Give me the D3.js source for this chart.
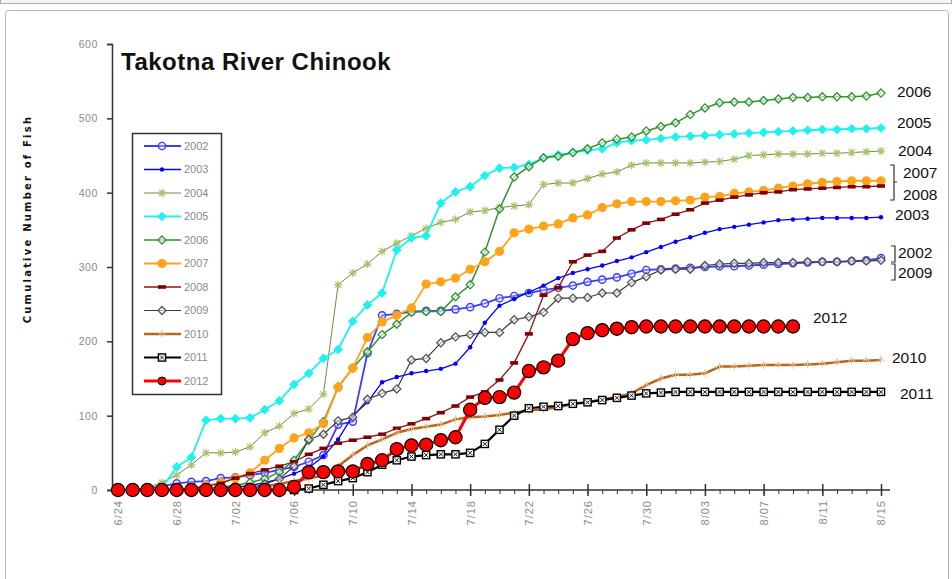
<!DOCTYPE html>
<html>
<head>
<meta charset="utf-8">
<script src="https://cdn.jsdelivr.net/npm/d3@7"></script>
<style>
  body { margin: 0; background: #fff; }
  text { font-family: "Liberation Sans", Arial, sans-serif; }
</style>
</head>
<body>
<div id="chart"></div>
<script>
// chart size
const width = 952;
const height = 579;

// daily counts, 6/24 through 8/15
const startDate = new Date(2012, 5, 24);
const tickLabels = ["6/24", "6/28", "7/02", "7/06", "7/10", "7/14", "7/18", "7/22", "7/26", "7/30", "8/03", "8/07", "8/11", "8/15"];
const yTicks = [0, 100, 200, 300, 400, 500, 600];

const y2002 = [0,0,2,5,9,11,12,16,17,20,23,27,31,38,47,88,92,184,235,237,240,241,241,243,246,251,258,261,265,269,272,275,280,283,286,291,296,297,298,299,300,301,301,302,303,304,305,306,307,307,308,309,312];
const y2003 = [0,0,0,0,0,0,0,2,4,6,10,15,22,30,45,68,100,118,145,152,157,160,163,170,192,225,248,257,266,275,285,292,297,302,308,313,320,327,334,340,346,351,354,357,360,363,364,365,366,366,366,366,367];
const y2004 = [0,0,3,10,20,34,50,50,51,58,77,86,103,109,129,276,292,304,321,332,342,352,360,364,374,376,380,382,384,411,413,413,419,425,428,437,440,440,440,440,441,442,445,450,451,452,452,452,453,453,454,455,456];
const y2005 = [0,0,0,3,31,44,94,96,96,97,108,120,142,157,177,189,227,249,265,323,339,342,386,401,408,423,433,434,438,447,451,454,457,459,467,470,471,473,475,476,477,478,479,480,481,482,483,484,485,485,486,486,487];
const y2006 = [0,0,0,0,0,0,2,4,6,10,15,24,40,67,92,139,164,186,209,223,239,240,240,260,276,320,378,421,435,447,449,454,459,467,472,475,483,489,494,505,514,521,522,522,524,526,528,528,529,529,529,530,534];
const y2007 = [0,0,0,0,0,3,6,10,16,23,40,56,70,77,89,138,164,205,226,235,245,277,280,285,297,307,321,346,351,355,358,366,370,380,385,388,388,388,389,390,394,395,399,401,403,406,409,412,414,415,416,416,416];
const y2008 = [0,0,0,0,0,2,5,9,16,22,27,32,38,48,56,63,67,71,75,83,89,96,104,113,125,132,148,171,210,262,272,307,316,321,339,350,359,364,371,377,386,390,394,397,400,401,404,405,406,407,408,408,409];
const y2009 = [0,0,0,0,0,0,0,0,0,3,8,15,32,68,75,93,98,122,130,136,175,177,198,206,209,212,212,229,233,239,258,258,259,265,265,279,287,296,297,297,302,304,305,305,306,306,306,307,307,307,308,308,309];
const y2010 = [0,0,0,0,0,0,0,0,0,2,5,8,12,15,20,32,47,60,68,77,82,85,88,95,98,99,101,104,107,109,111,116,118,122,125,130,141,150,155,155,157,166,166,167,168,168,168,169,170,172,174,174,175];
const y2011 = [0,0,0,0,0,0,0,0,0,0,0,0,0,2,7,12,16,24,34,40,45,47,48,48,50,62,81,100,110,112,113,116,118,121,124,127,130,131,132,132,132,132,132,132,132,132,132,132,132,132,132,132,132];
const y2012 = [0,0,0,0,0,0,0,0,0,0,0,0,4,24,24,25,25,35,40,55,60,61,67,71,108,124,125,131,160,165,174,203,211,215,217,219,220,220,220,220,220,220,220,220,220,220,220];

const seriesNames = ["2002", "2003", "2004", "2005", "2006", "2007", "2008", "2009", "2010", "2011", "2012"];
const seriesValues = [y2002, y2003, y2004, y2005, y2006, y2007, y2008, y2009, y2010, y2011, y2012];

// line + marker styling per year
const styles = {
    "2002": { line: "#3d3dff", lw: 1.8, marker: "ring", color: "#3d3dff" },
    "2003": { line: "#0000ff", lw: 1.3, marker: "dot", color: "#0000ff" },
    "2004": { line: "#708c40", lw: 1, marker: "star", color: "#a4c46c" },
    "2005": { line: "#1ff0f0", lw: 1.8, marker: "diamond", color: "#1ff0f0" },
    "2006": { line: "#2f932f", lw: 1.5, marker: "diamondOpen", color: "#2f932f" },
    "2007": { line: "#ffa31a", lw: 1.8, marker: "circle", color: "#ffa31a" },
    "2008": { line: "#8e1414", lw: 1.3, marker: "dash", color: "#800000" },
    "2009": { line: "#3a3a3a", lw: 1.2, marker: "diamondOpen", color: "#555555" },
    "2010": { line: "#b8661c", lw: 2.5, marker: "plus", color: "#ecc89c" },
    "2011": { line: "#000000", lw: 2.2, marker: "boxX", color: "#000000" },
    "2012": { line: "#ff0000", lw: 3, marker: "big", color: "#ff0000" }
};

const svg = d3.select("#chart")
    .append("svg")
    .attr("width", width)
    .attr("height", height);

// outer frames
svg.append("rect")
    .attr("x", 0.5).attr("y", -20)
    .attr("width", width - 1).attr("height", 23.5)
    .attr("fill", "#f4f4f4").attr("stroke", "#b0b0b0");
svg.append("rect")
    .attr("x", 5.5).attr("y", 10.5)
    .attr("width", width - 9).attr("height", 600)
    .attr("rx", 3)
    .attr("fill", "#fff").attr("stroke", "#b8b8b8");

const dates = seriesValues[0].map((v, i) => d3.timeDay.offset(startDate, i));

const x = d3.scaleTime()
    .domain([startDate, d3.timeDay.offset(startDate, 52)])
    .range([118, 881]);

const y = d3.scaleLinear()
    .domain([0, 600])
    .range([490, 44]);

// y axis
const yAxis = svg.append("g")
    .attr("transform", "translate(112,0)")
    .call(d3.axisLeft(y).tickValues(yTicks).tickSize(5).tickPadding(9));
yAxis.select(".domain").attr("stroke", "#333").attr("stroke-width", 1.5);
yAxis.selectAll(".tick line").attr("stroke", "#333").attr("stroke-width", 1.5);
yAxis.selectAll(".tick text")
    .attr("fill", "#8a8a8a")
    .style("font-size", "10.5px")
    .style("letter-spacing", "0.6px");

// x axis: minor daily ticks, major every 4 days
const xg = svg.append("g");
xg.append("line")
    .attr("x1", 110).attr("x2", 890)
    .attr("y1", 490).attr("y2", 490)
    .attr("stroke", "#333").attr("stroke-width", 1.5);

const minor = svg.append("g")
    .attr("transform", "translate(0,490)")
    .call(d3.axisBottom(x).tickValues(dates).tickSize(4).tickFormat(""));
minor.select(".domain").remove();
minor.selectAll(".tick line").attr("stroke", "#333");

const majorDates = tickLabels.map((t, i) => d3.timeDay.offset(startDate, i * 4));
const major = svg.append("g")
    .attr("transform", "translate(0,490)")
    .call(d3.axisBottom(x).tickValues(majorDates).tickSize(6)
        .tickFormat((d, i) => tickLabels[i]));
major.select(".domain").remove();
major.selectAll(".tick line").attr("y1", -6).attr("stroke", "#333").attr("stroke-width", 1.5);
major.selectAll(".tick text")
    .attr("fill", "#8a8a8a")
    .style("font-size", "11px")
    .style("letter-spacing", "1px")
    .attr("text-anchor", "end")
    .attr("transform", "rotate(-90)")
    .attr("x", -10)
    .attr("y", 0)
    .attr("dy", "0.35em");

// marker drawer
function drawMarker(g, kind, color) {
    if (kind === "ring") {
        g.append("circle").attr("r", 3.6).attr("fill", "#d8d8ff").attr("fill-opacity", 0.4)
            .attr("stroke", color).attr("stroke-width", 1.4);
    } else if (kind === "dot") {
        g.append("circle").attr("r", 2.2).attr("fill", color);
    } else if (kind === "star") {
        g.append("path").attr("d", "M-4,0H4M0,-4V4M-3,-3L3,3M-3,3L3,-3")
            .attr("stroke", color).attr("stroke-width", 1.2).attr("fill", "none");
    } else if (kind === "diamond") {
        g.append("path").attr("d", d3.symbol(d3.symbolDiamond2, 60)())
            .attr("fill", color);
    } else if (kind === "diamondOpen") {
        g.append("path").attr("d", d3.symbol(d3.symbolDiamond2, 42)())
            .attr("fill", "#fff").attr("fill-opacity", 0.6)
            .attr("stroke", color).attr("stroke-width", 1.3);
    } else if (kind === "circle") {
        g.append("circle").attr("r", 4.6).attr("fill", color);
    } else if (kind === "dash") {
        g.append("rect").attr("x", -4).attr("y", -1.8).attr("width", 8).attr("height", 3.6)
            .attr("fill", color);
    } else if (kind === "plus") {
        g.append("path").attr("d", "M-4,2L0,-3L4,2M0,-4V4")
            .attr("stroke", color).attr("stroke-width", 1).attr("fill", "none");
    } else if (kind === "boxX") {
        g.append("rect").attr("x", -3.6).attr("y", -3.6).attr("width", 7.2).attr("height", 7.2)
            .attr("fill", "#fff").attr("stroke", color).attr("stroke-width", 1.4);
        g.append("path").attr("d", "M-2,-2L2,2M-2,2L2,-2")
            .attr("stroke", color).attr("stroke-width", 0.9);
    } else if (kind === "big") {
        g.append("circle").attr("r", 6.6).attr("fill", color)
            .attr("stroke", "#000").attr("stroke-width", 1.2);
    }
}

const line = d3.line()
    .x((d, i) => x(dates[i]))
    .y(d => y(d));

// series, drawn in legend order so 2012 ends on top
seriesNames.forEach((name, k) => {
    const vals = seriesValues[k];
    const st = styles[name];
    const g = svg.append("g");
    g.append("path")
        .datum(vals)
        .attr("d", line)
        .attr("fill", "none")
        .attr("stroke", st.line)
        .attr("stroke-width", st.lw)
        .attr("stroke-linejoin", "round");
    g.selectAll("g.pt")
        .data(vals)
        .enter()
        .append("g")
        .attr("class", "pt")
        .attr("transform", (d, i) => `translate(${x(dates[i])},${y(d)})`)
        .each(function() { drawMarker(d3.select(this), st.marker, st.color); });
});

// legend
const legend = svg.append("g");
legend.append("rect")
    .attr("x", 132.5).attr("y", 133.5)
    .attr("width", 89).attr("height", 261)
    .attr("fill", "#fff").attr("stroke", "#333").attr("stroke-width", 1.5);
seriesNames.forEach((name, k) => {
    const st = styles[name];
    const ly = 146 + k * 23.5;
    legend.append("line")
        .attr("x1", 144).attr("x2", 181)
        .attr("y1", ly).attr("y2", ly)
        .attr("stroke", st.line).attr("stroke-width", st.lw);
    const m = legend.append("g").attr("transform", `translate(162,${ly})`);
    drawMarker(m, st.marker === "big" ? "circle" : st.marker, st.color);
    if (st.marker === "big") m.select("circle").attr("stroke", "#000").attr("stroke-width", 1).attr("r", 4);
    legend.append("text")
        .attr("x", 184).attr("y", ly)
        .attr("dy", "0.35em")
        .attr("fill", "#8a8a8a")
        .style("font-size", "11px")
        .text(name);
});

// title
svg.append("text")
    .attr("x", 121).attr("y", 70)
    .style("font-size", "24px")
    .style("font-weight", "bold")
    .style("letter-spacing", "0.5px")
    .attr("fill", "#111")
    .text("Takotna River Chinook");

// y axis title
svg.append("text")
    .attr("transform", "translate(31,219) rotate(-90)")
    .attr("text-anchor", "middle")
    .style("font-family", "'DejaVu Sans', sans-serif")
    .style("font-size", "10px")
    .style("font-weight", "bold")
    .style("letter-spacing", "2.2px")
    .attr("fill", "#111")
    .text("Cumulative Number of Fish");

// end labels
const endLabels = [
    { t: "2006", x: 897, y: 91 },
    { t: "2005", x: 897, y: 122 },
    { t: "2004", x: 898, y: 150 },
    { t: "2007", x: 903, y: 172 },
    { t: "2008", x: 903, y: 194 },
    { t: "2003", x: 895, y: 214 },
    { t: "2002", x: 898, y: 252 },
    { t: "2009", x: 898, y: 272 },
    { t: "2012", x: 813, y: 317 },
    { t: "2010", x: 892, y: 357 },
    { t: "2011", x: 900, y: 393 }
];
svg.append("g").selectAll("text")
    .data(endLabels)
    .enter()
    .append("text")
    .attr("x", d => d.x).attr("y", d => d.y)
    .attr("dy", "0.36em")
    .style("font-size", "15.5px")
    .attr("fill", "#111")
    .text(d => d.t);

// brackets
const bracket = d3.path();
bracket.moveTo(890, 165); bracket.lineTo(894, 165); bracket.lineTo(894, 200); bracket.lineTo(890, 200);
bracket.moveTo(894, 182); bracket.lineTo(897, 182);
bracket.moveTo(891, 246); bracket.lineTo(895, 246); bracket.lineTo(895, 262); bracket.lineTo(891, 262);
bracket.moveTo(891, 264); bracket.lineTo(895, 264); bracket.lineTo(895, 280); bracket.lineTo(891, 280);
svg.append("path")
    .attr("d", bracket.toString())
    .attr("fill", "none")
    .attr("stroke", "#333")
    .attr("stroke-width", 1.2);
</script>
</body>
</html>
